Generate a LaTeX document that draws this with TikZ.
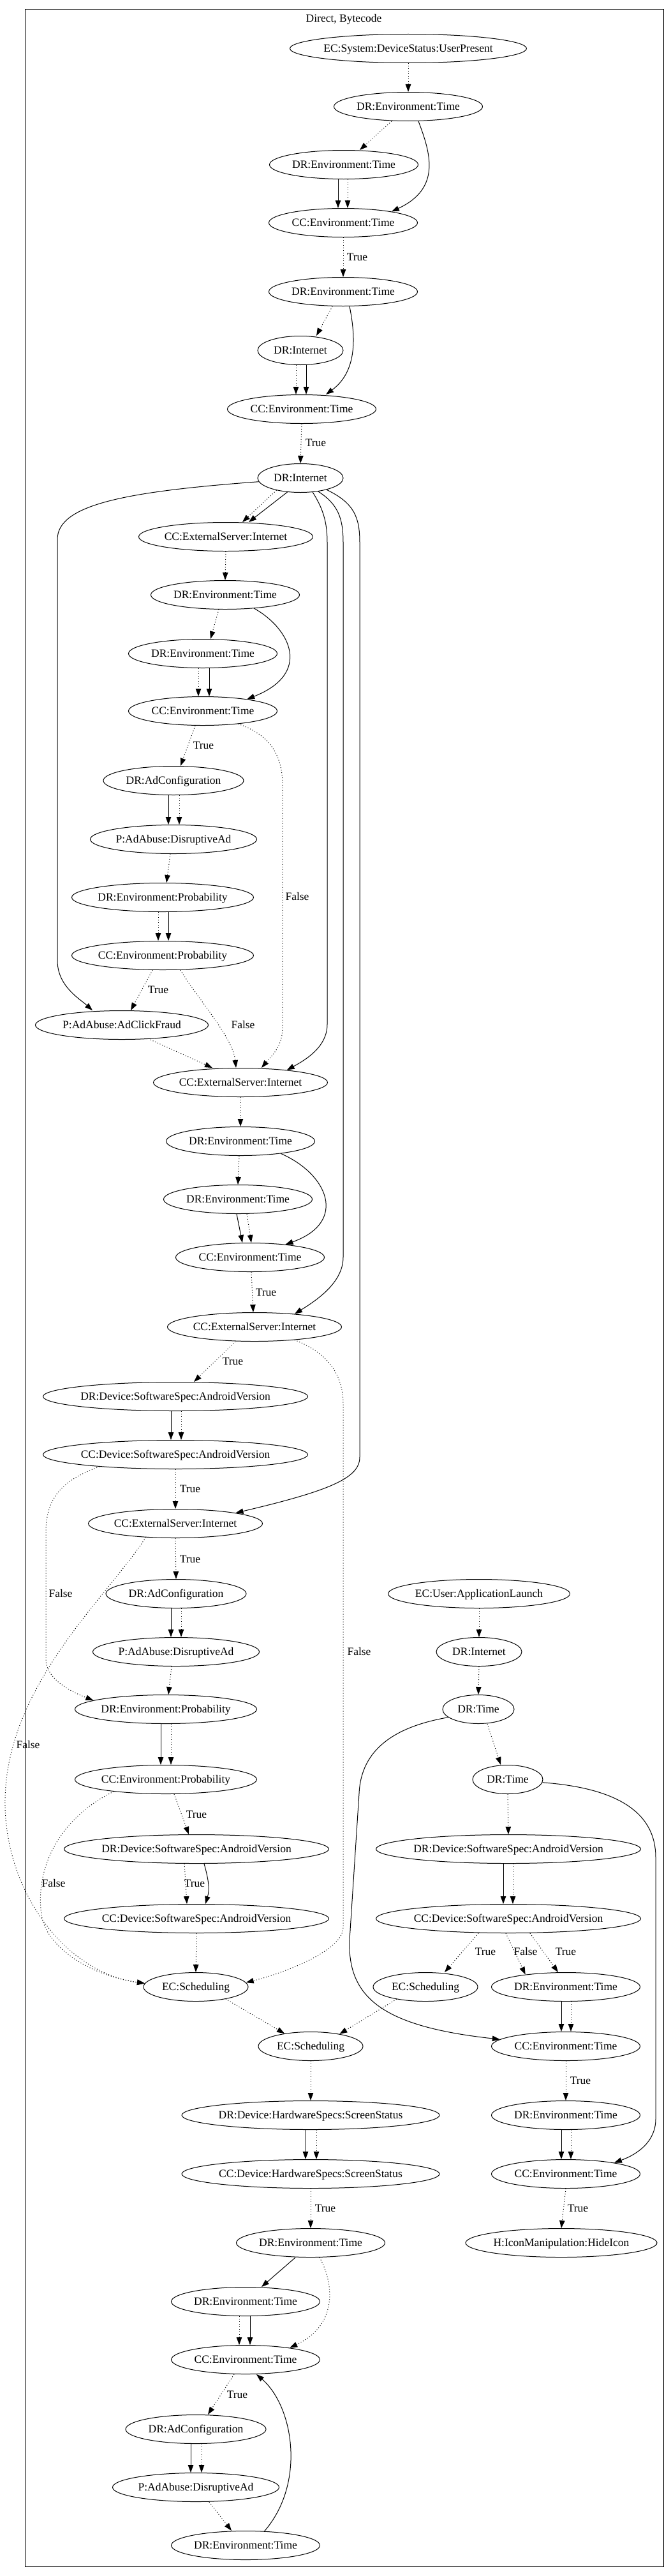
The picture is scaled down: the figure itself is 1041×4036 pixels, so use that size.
\documentclass[tikz,border=0pt]{standalone}
\usepackage{fontspec}
\setmainfont{Liberation Serif}
\usetikzlibrary{arrows.meta,shapes.geometric}
\newcommand\nlab[1]{\makebox[0pt]{#1}}
\begin{document}
\begin{tikzpicture}[x=1pt,y=-1pt,
  nd/.style={draw, ellipse, line width=1pt, inner sep=0pt, minimum height=45pt, text height=11.5pt, text depth=0pt, font=\fontsize{17.5pt}{21pt}\selectfont},
  lbl/.style={inner sep=0pt, text height=11.5pt, text depth=0pt, font=\fontsize{17.5pt}{21pt}\selectfont},
  sol/.style={line width=1pt, -{Triangle[length=12pt,width=8.5pt]}},
  dot/.style={sol, dash pattern=on 1pt off 3pt},
]
\useasboundingbox (0,0) rectangle (1041,4036);
\draw[line width=1pt] (39,15) rectangle (1040,4021);
\node[lbl] (title) at (539,29) {Direct, Bytecode};

% left column nodes
\node[nd,minimum width=371pt] (a1) at (640,76) {\nlab{EC:System:DeviceStatus:UserPresent}};
\node[nd,minimum width=233pt] (a2) at (640,167) {\nlab{DR:Environment:Time}};
\node[nd,minimum width=233pt] (a3) at (539,258) {\nlab{DR:Environment:Time}};
\node[nd,minimum width=233pt] (a4) at (538,349) {\nlab{CC:Environment:Time}};
\node[nd,minimum width=233pt] (a5) at (538,457) {\nlab{DR:Environment:Time}};
\node[nd,minimum width=134pt] (a6) at (471,549) {\nlab{DR:Internet}};
\node[nd,minimum width=233pt] (a7) at (473,641) {\nlab{CC:Environment:Time}};
\node[nd,minimum width=134pt] (a8) at (471,749) {\nlab{DR:Internet}};
\node[nd,minimum width=273pt] (a9) at (354,841) {\nlab{CC:ExternalServer:Internet}};
\node[nd,minimum width=233pt] (a10) at (353,932) {\nlab{DR:Environment:Time}};
\node[nd,minimum width=233pt] (a11) at (318,1024) {\nlab{DR:Environment:Time}};
\node[nd,minimum width=233pt] (a12) at (318,1114) {\nlab{CC:Environment:Time}};
\node[nd,minimum width=220pt] (a13) at (272,1223) {\nlab{DR:AdConfiguration}};
\node[nd,minimum width=261pt] (a14) at (272,1315) {\nlab{P:AdAbuse:DisruptiveAd}};
\node[nd,minimum width=285pt] (a15) at (255,1406) {\nlab{DR:Environment:Probability}};
\node[nd,minimum width=285pt] (a16) at (255,1497) {\nlab{CC:Environment:Probability}};
\node[nd,minimum width=271pt] (a17) at (191,1606) {\nlab{P:AdAbuse:AdClickFraud}};
\node[nd,minimum width=273pt] (a18) at (377,1696) {\nlab{CC:ExternalServer:Internet}};
\node[nd,minimum width=233pt] (a19) at (377,1788) {\nlab{DR:Environment:Time}};
\node[nd,minimum width=233pt] (a20) at (373,1879) {\nlab{DR:Environment:Time}};
\node[nd,minimum width=233pt] (a21) at (392,1970) {\nlab{CC:Environment:Time}};
\node[nd,minimum width=273pt] (a22) at (399,2079) {\nlab{CC:ExternalServer:Internet}};
\node[nd,minimum width=415pt] (a23) at (275,2188) {\nlab{DR:Device:SoftwareSpec:AndroidVersion}};
\node[nd,minimum width=415pt] (a24) at (275,2279) {\nlab{CC:Device:SoftwareSpec:AndroidVersion}};
\node[nd,minimum width=273pt] (a25) at (275,2387) {\nlab{CC:ExternalServer:Internet}};
\node[nd,minimum width=220pt] (a26) at (276,2497) {\nlab{DR:AdConfiguration}};
\node[nd,minimum width=261pt] (a27) at (276,2588) {\nlab{P:AdAbuse:DisruptiveAd}};
\node[nd,minimum width=285pt] (a29) at (260,2678) {\nlab{DR:Environment:Probability}};
\node[nd,minimum width=285pt] (a30) at (260,2788) {\nlab{CC:Environment:Probability}};
\node[nd,minimum width=415pt] (a31) at (308,2897) {\nlab{DR:Device:SoftwareSpec:AndroidVersion}};
\node[nd,minimum width=415pt] (a32) at (308,3006) {\nlab{CC:Device:SoftwareSpec:AndroidVersion}};
\node[nd,minimum width=164pt] (a33) at (307,3113) {\nlab{EC:Scheduling}};
\node[nd,minimum width=164pt] (a34) at (487,3206) {\nlab{EC:Scheduling}};
\node[nd,minimum width=404pt] (a35) at (487,3314) {\nlab{DR:Device:HardwareSpecs:ScreenStatus}};
\node[nd,minimum width=404pt] (a36) at (487,3406) {\nlab{CC:Device:HardwareSpecs:ScreenStatus}};
\node[nd,minimum width=233pt] (a37) at (487,3514) {\nlab{DR:Environment:Time}};
\node[nd,minimum width=233pt] (a38) at (385,3606) {\nlab{DR:Environment:Time}};
\node[nd,minimum width=233pt] (a39) at (385,3697) {\nlab{CC:Environment:Time}};
\node[nd,minimum width=220pt] (a40) at (307,3806) {\nlab{DR:AdConfiguration}};
\node[nd,minimum width=261pt] (a41) at (307,3897) {\nlab{P:AdAbuse:DisruptiveAd}};
\node[nd,minimum width=233pt] (a42) at (385,3988) {\nlab{DR:Environment:Time}};

% right column nodes
\node[nd,minimum width=285pt] (b1) at (751,2497) {\nlab{EC:User:ApplicationLaunch}};
\node[nd,minimum width=134pt] (b2) at (751,2588) {\nlab{DR:Internet}};
\node[nd,minimum width=112pt] (b3) at (750,2678) {\nlab{DR:Time}};
\node[nd,minimum width=110pt] (b4) at (796,2788) {\nlab{DR:Time}};
\node[nd,minimum width=415pt] (b5) at (797,2897) {\nlab{DR:Device:SoftwareSpec:AndroidVersion}};
\node[nd,minimum width=415pt] (b6) at (797,3006) {\nlab{CC:Device:SoftwareSpec:AndroidVersion}};
\node[nd,minimum width=164pt] (b7) at (667,3113) {\nlab{EC:Scheduling}};
\node[nd,minimum width=233pt] (b8) at (887,3113) {\nlab{DR:Environment:Time}};
\node[nd,minimum width=233pt] (b9) at (887,3206) {\nlab{CC:Environment:Time}};
\node[nd,minimum width=233pt] (b10) at (887,3314) {\nlab{DR:Environment:Time}};
\node[nd,minimum width=233pt] (b11) at (887,3406) {\nlab{CC:Environment:Time}};
\node[nd,minimum width=300pt] (b12) at (880,3514) {\nlab{H:IconManipulation:HideIcon}};

% edge labels
\node[lbl] (l1) at (560,403) {True};
\node[lbl] (l2) at (495,694) {True};
\node[lbl] (l3) at (319,1168) {True};
\node[lbl] (l4) at (466,1405) {False};
\node[lbl] (l5) at (248,1551) {True};
\node[lbl] (l6) at (381,1606) {False};
\node[lbl] (l7) at (417,2025) {True};
\node[lbl] (l8) at (365,2133) {True};
\node[lbl] (l9) at (298,2333) {True};
\node[lbl] (l10) at (95,2497) {False};
\node[lbl] (l11) at (298,2443) {True};
\node[lbl] (l12) at (563,2588) {False};
\node[lbl] (l13) at (44,2734) {False};
\node[lbl] (l14) at (308,2843) {True};
\node[lbl] (l15) at (84,2951) {False};
\node[lbl] (l16) at (305,2951) {True};
\node[lbl] (l17) at (761,3058) {True};
\node[lbl] (l18) at (824,3058) {False};
\node[lbl] (l19) at (887,3058) {True};
\node[lbl] (l20) at (910,3260) {True};
\node[lbl] (l21) at (510,3460) {True};
\node[lbl] (l22) at (906,3460) {True};
\node[lbl] (l23) at (372,3752) {True};

% left column edges
\draw[dot] (a1.south) -- (a2.north);
\draw[dot] ([xshift=-26pt]a2.south) -- ([xshift=25pt]a3.north);
\draw[sol] ([xshift=16pt]a2.south) .. controls (675,240) and (692,295) .. (a4.13);
\draw[sol] ([xshift=-9pt]a3.south) -- ([xshift=-8pt]a4.north);
\draw[dot] ([xshift=6pt]a3.south) -- ([xshift=7pt]a4.north);
\draw[dot] (a4.south) -- (a5.north);
\draw[dot] ([xshift=-17pt]a5.south) -- ([xshift=25pt]a6.north);
\draw[sol] ([xshift=10pt]a5.south) .. controls (556,520) and (563,580) .. ([xshift=38pt]a7.north);
\draw[dot] ([xshift=-7pt]a6.south) -- ([xshift=-9pt]a7.north);
\draw[sol] ([xshift=9pt]a6.south) -- ([xshift=7pt]a7.north);
\draw[dot] (a7.south) -- (a8.north);
\draw[sol] (a8.185) .. controls (200,770) and (90,790) .. (90,845) -- (90,1505) .. controls (90,1545) and (125,1565) .. ([xshift=-46pt]a17.north);
\draw[dot] (a8.207) -- ([xshift=26pt]a9.north);
\draw[sol] (a8.227) -- ([xshift=36pt]a9.north);
\draw[sol] (a8.311) .. controls (505,795) and (513,815) .. (513,850) -- (513,1605) .. controls (513,1640) and (480,1660) .. (a18.15);
\draw[sol] (a8.323) .. controls (530,790) and (538,812) .. (538,850) -- (538,1970) .. controls (538,2010) and (495,2038) .. (a22.18);
\draw[sol] (a8.336) .. controls (555,788) and (564,810) .. (564,850) -- (564,2283) .. controls (564,2315) and (520,2335) .. (a25.10);
\draw[dot] (a9.south) -- (a10.north);
\draw[dot] ([xshift=-10pt]a10.south) -- ([xshift=12pt]a11.north);
\draw[sol] (a10.335) .. controls (455,985) and (490,1055) .. (a12.15);
\draw[dot] ([xshift=-7pt]a11.south) -- ([xshift=-7pt]a12.north);
\draw[sol] ([xshift=10pt]a11.south) -- ([xshift=10pt]a12.north);
\draw[dot] ([xshift=-12pt]a12.south) -- ([xshift=11pt]a13.north);
\draw[dot] (a12.340) .. controls (420,1150) and (443,1180) .. (443,1230) -- (443,1610) .. controls (443,1640) and (425,1655) .. ([xshift=33pt]a18.north);
\draw[sol] ([xshift=-8pt]a13.south) -- ([xshift=-8pt]a14.north);
\draw[dot] ([xshift=9pt]a13.south) -- ([xshift=9pt]a14.north);
\draw[dot] ([xshift=-5pt]a14.south) -- ([xshift=6pt]a15.north);
\draw[dot] ([xshift=-7pt]a15.south) -- ([xshift=-7pt]a16.north);
\draw[sol] ([xshift=9pt]a15.south) -- ([xshift=9pt]a16.north);
\draw[dot] ([xshift=-16pt]a16.south) -- ([xshift=14pt]a17.north);
\draw[dot] ([xshift=28pt]a16.south) .. controls (310,1565) and (365,1625) .. ([xshift=-7pt]a18.north);
\draw[dot] ([xshift=45pt]a17.south) -- ([xshift=-44pt]a18.north);
\draw[dot] (a18.south) -- (a19.north);
\draw[dot] ([xshift=-2pt]a19.south) -- (a20.north);
\draw[sol] (a19.343) .. controls (515,1840) and (545,1915) .. (a21.20);
\draw[sol] ([xshift=-2pt]a20.south) -- ([xshift=-12pt]a21.north);
\draw[dot] ([xshift=14pt]a20.south) -- ([xshift=2pt]a21.north);
\draw[dot] ([xshift=2pt]a21.south) -- ([xshift=-2pt]a22.north);
\draw[dot] ([xshift=-30pt]a22.south) -- ([xshift=29pt]a23.north);
\draw[dot] (a22.342) .. controls (510,2118) and (538,2150) .. (538,2200) -- (538,3020) .. controls (538,3055) and (450,3090) .. (a33.5);
\draw[sol] ([xshift=-7pt]a23.south) -- ([xshift=-7pt]a24.north);
\draw[dot] ([xshift=9pt]a23.south) -- ([xshift=9pt]a24.north);
\draw[dot] (a24.south) -- (a25.north);
\draw[dot] (a24.189) .. controls (100,2318) and (72,2345) .. (72,2400) -- (72,2600) .. controls (72,2630) and (110,2650) .. (a29.173);
\draw[dot] (a25.south) -- (a26.north);
\draw[dot] (a25.205) .. controls (170,2500) and (10,2640) .. (8,2820) .. controls (6,2960) and (100,3090) .. (a33.176);
\draw[sol] ([xshift=-8pt]a26.south) -- ([xshift=-8pt]a27.north);
\draw[dot] ([xshift=8pt]a26.south) -- ([xshift=8pt]a27.north);
\draw[dot] ([xshift=-7pt]a27.south) -- ([xshift=4pt]a29.north);
\draw[sol] ([xshift=-8pt]a29.south) -- ([xshift=-8pt]a30.north);
\draw[dot] ([xshift=8pt]a29.south) -- ([xshift=8pt]a30.north);
\draw[dot] ([xshift=13pt]a30.south) -- ([xshift=-12pt]a31.north);
\draw[dot] (a30.193) .. controls (90,2850) and (55,2930) .. (65,3000) .. controls (72,3050) and (140,3095) .. (a33.176);
\draw[dot] ([xshift=-19pt]a31.south) -- ([xshift=-15pt]a32.north);
\draw[sol] ([xshift=12pt]a31.south) .. controls (327,2945) and (329,2960) .. ([xshift=14pt]a32.north);
\draw[dot] (a32.south) -- (a33.north);
\draw[dot] (a33.338) -- (a34.154);
\draw[dot] (b7.203) -- (a34.23);
\draw[dot] (a34.south) -- (a35.north);
\draw[sol] ([xshift=-8pt]a35.south) -- ([xshift=-8pt]a36.north);
\draw[dot] ([xshift=9pt]a35.south) -- ([xshift=9pt]a36.north);
\draw[dot] (a36.south) -- (a37.north);
\draw[sol] ([xshift=-24pt]a37.south) -- ([xshift=25pt]a38.north);
\draw[dot] ([xshift=14pt]a37.south) .. controls (520,3570) and (535,3640) .. (a39.15);
\draw[dot] ([xshift=-10pt]a38.south) -- ([xshift=-10pt]a39.north);
\draw[sol] ([xshift=7pt]a38.south) -- ([xshift=7pt]a39.north);
\draw[dot] ([xshift=-18pt]a39.south) -- ([xshift=19pt]a40.north);
\draw[sol] (a42.37) .. controls (480,3890) and (460,3770) .. ([xshift=17pt]a39.south);
\draw[sol] ([xshift=-8pt]a40.south) -- ([xshift=-8pt]a41.north);
\draw[dot] ([xshift=9pt]a40.south) -- ([xshift=9pt]a41.north);
\draw[dot] ([xshift=21pt]a41.south) -- ([xshift=-22pt]a42.north);

% right column edges
\draw[dot] (b1.south) -- (b2.north);
\draw[dot] (b2.south) -- (b3.north);
\draw[dot] ([xshift=14pt]b3.south) -- ([xshift=-11pt]b4.north);
\draw[sol] (b3.195) .. controls (620,2705) and (566,2740) .. (563,2810) -- (548,3040) .. controls (545,3130) and (600,3175) .. (b9.174);
\draw[sol] (b4.355) .. controls (950,2800) and (1028,2830) .. (1028,2910) -- (1028,3320) .. controls (1028,3355) and (1000,3375) .. (b11.13);
\draw[dot] (b4.south) -- (b5.north);
\draw[sol] ([xshift=-8pt]b5.south) -- ([xshift=-8pt]b6.north);
\draw[dot] ([xshift=7pt]b5.south) -- ([xshift=7pt]b6.north);
\draw[dot] ([xshift=-47pt]b6.south) -- ([xshift=30pt]b7.north);
\draw[dot] ([xshift=-4pt]b6.south) -- (b8.163);
\draw[dot] ([xshift=34pt]b6.south) -- ([xshift=-12pt]b8.north);
\draw[sol] ([xshift=-7pt]b8.south) -- ([xshift=-7pt]b9.north);
\draw[dot] ([xshift=8pt]b8.south) -- ([xshift=8pt]b9.north);
\draw[dot] (b9.south) -- (b10.north);
\draw[sol] ([xshift=-7pt]b10.south) -- ([xshift=-7pt]b11.north);
\draw[dot] ([xshift=8pt]b10.south) -- ([xshift=8pt]b11.north);
\draw[dot] (b11.south) -- (b12.north);
\end{tikzpicture}
\end{document}
